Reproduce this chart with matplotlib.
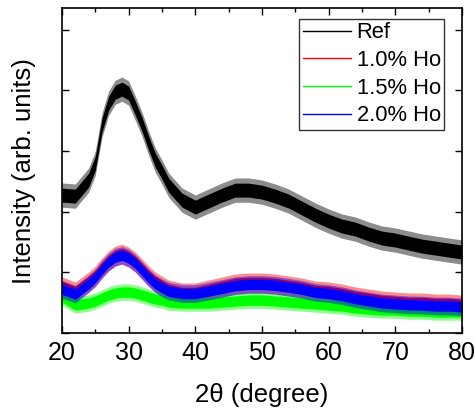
"""XRD patterns of the reference glass and the Ho-doped samples."""

import matplotlib

matplotlib.use("Agg")
import matplotlib.pyplot as plt
import numpy as np
from matplotlib.ticker import MultipleLocator

plt.rcParams["font.family"] = ["Liberation Sans", "DejaVu Sans"]

# 2theta sampling points (degree) at which the curves were read
two_theta = [20, 22, 24, 25, 26, 27, 28, 29, 30, 31, 32, 33, 34, 35, 36, 38, 40,
             42, 44, 46, 48, 50, 52, 54, 56, 58, 60, 62, 64, 66, 68, 70, 72, 74,
             76, 78, 80]

# smoothed intensity (arb. units)
ref = [2273, 2256, 2520, 2800, 3426, 3788, 3969, 4019, 3953, 3706, 3442, 3129,
       2849, 2652, 2438, 2191, 2075, 2174, 2273, 2355, 2355, 2322, 2256, 2174,
       2059, 1943, 1845, 1762, 1713, 1631, 1565, 1532, 1482, 1433, 1400, 1367,
       1334]
ho_10 = [758, 675, 840, 939, 1071, 1186, 1268, 1301, 1252, 1169, 1054, 939, 840,
         774, 708, 659, 659, 708, 758, 807, 824, 824, 807, 774, 741, 692, 675,
         642, 593, 560, 527, 511, 494, 494, 478, 478, 461]
ho_15 = [593, 461, 494, 527, 576, 626, 659, 675, 675, 659, 626, 593, 560, 543,
         511, 494, 494, 494, 511, 527, 543, 543, 527, 511, 494, 478, 461, 445,
         412, 395, 379, 379, 362, 362, 346, 346, 346]
ho_20 = [720, 640, 810, 910, 1050, 1170, 1250, 1280, 1235, 1150, 1030, 910, 810,
         745, 690, 650, 650, 690, 735, 780, 800, 800, 785, 755, 720, 670, 650,
         615, 565, 530, 495, 480, 465, 460, 445, 445, 430]

# noise band around each curve: dense core and spiky outer half-width (arb. units)
noise_core = [115, 95, 85, 85]
noise_spikes = [200, 165, 135, 145]

labels = ["Ref", "1.0% Ho", "1.5% Ho", "2.0% Ho"]
colors = ["black", "#ff0000", "#00ff00", "#0000ff"]

fig = plt.figure(figsize=(4.75, 4.08), dpi=100)
ax = fig.add_axes([0.1305, 0.1838, 0.842, 0.7962])

x = np.asarray(two_theta, dtype=float)
series = [ref, ho_10, ho_15, ho_20]
for values, color, core, spikes, label in zip(series, colors, noise_core, noise_spikes, labels):
    y = np.asarray(values, dtype=float)
    ax.fill_between(x, y - spikes, y + spikes, color=color, lw=0, alpha=0.45)
    ax.fill_between(x, y - core, y + core, color=color, lw=0)
    ax.plot([], [], color=color, lw=1.0, label=label)

ax.set_xlim(20, 80)
ax.set_ylim(0, 5354)
ax.xaxis.set_major_locator(MultipleLocator(10))
ax.xaxis.set_minor_locator(MultipleLocator(5))
ax.yaxis.set_major_locator(MultipleLocator(1000))
ax.set_yticklabels([])
ax.tick_params(which="both", direction="in", top=True, right=True, width=1)
ax.tick_params(which="major", length=5, labelsize=18, pad=6)
ax.tick_params(which="minor", length=3)
for spine in ax.spines.values():
    spine.set_linewidth(1.2)

ax.set_xlabel("2θ (degree)", fontsize=18.5, labelpad=13)
ax.set_ylabel("Intensity (arb. units)", fontsize=18.5, labelpad=13)

leg = ax.legend(loc="upper right", bbox_to_anchor=(0.955, 0.966), borderaxespad=0,
                fontsize=15.8, frameon=True, fancybox=False, edgecolor="black",
                handlelength=2.2, handletextpad=0.25, labelspacing=0.3,
                borderpad=0.15)
leg.get_frame().set_linewidth(1.0)

fig.savefig("out.png", dpi=100)
